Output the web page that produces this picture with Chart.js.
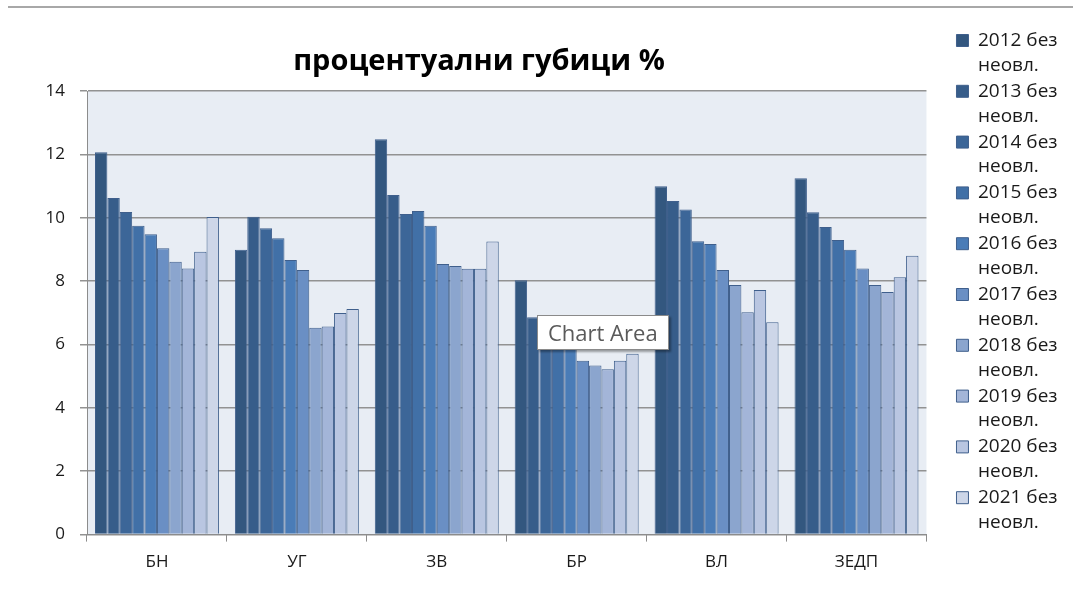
<!DOCTYPE html>
<html>
<head>
<meta charset="utf-8">
<script src="https://cdn.jsdelivr.net/npm/chart.js@4.4.1/dist/chart.umd.min.js"></script>
<style>
  body { margin: 0; background: #fff; }
  #wrap { position: relative; width: 1073px; height: 605px; }
  #topline { position: absolute; left: 8px; right: 0; top: 6px; border-top: 2px solid #a8a8a8; }
  #hint {
    position: absolute; left: 537px; top: 315px; width: 120px; height: 33px;
    background: #fff; border: 1px solid #8a8a8a; box-shadow: 2px 2px 2px rgba(0,0,0,0.35);
    font: 22px "Open Sans", sans-serif; color: #5a5a5a; line-height: 33px; padding-left: 10px;
  }
</style>
</head>
<body>
<div id="wrap">
  <div id="topline"></div>
  <canvas id="chart"></canvas>
  <div id="hint">Chart Area</div>
</div>
<script>
// categories (x axis)
const regions = ['БН', 'УГ', 'ЗВ', 'БР', 'ВЛ', 'ЗЕДП'];
const seriesNames = ['2012 без неовл.', '2013 без неовл.', '2014 без неовл.', '2015 без неовл.', '2016 без неовл.',
  '2017 без неовл.', '2018 без неовл.', '2019 без неовл.', '2020 без неовл.', '2021 без неовл.'];
const yTicks = [0, 2, 4, 6, 8, 10, 12, 14];

// values per year, one per region
const y2012 = [12.07, 8.99, 12.48, 8.03, 10.99, 11.25];
const y2013 = [10.62, 10.03, 10.72, 6.86, 10.53, 10.17];
const y2014 = [10.18, 9.67, 10.12, 6.50, 10.26, 9.71];
const y2015 = [9.75, 9.35, 10.21, 6.25, 9.26, 9.30];
const y2016 = [9.48, 8.67, 9.75, 6.00, 9.17, 8.99];
const y2017 = [9.04, 8.35, 8.54, 5.49, 8.35, 8.40];
const y2018 = [8.61, 6.53, 8.48, 5.34, 7.88, 7.88];
const y2019 = [8.40, 6.57, 8.39, 5.22, 7.02, 7.66];
const y2020 = [8.93, 6.99, 8.39, 5.49, 7.72, 8.12];
const y2021 = [10.02, 7.12, 9.25, 5.71, 6.70, 8.80];
const allYears = [y2012, y2013, y2014, y2015, y2016, y2017, y2018, y2019, y2020, y2021];

const colors = ['#33577f', '#375d8a', '#3c6698', '#4170a7', '#4a7cb7', '#6a8fc4', '#8ba5ce', '#a3b5d8', '#b9c6e1', '#cdd6e8'];
const edge = '#3f5f8c';
const font = '"Open Sans", sans-serif';

// light plot background like excel
const plotBg = {
  id: 'plotBg',
  beforeDraw(chart) {
    const a = chart.chartArea;
    const c = chart.ctx;
    c.save();
    c.fillStyle = '#e8edf4';
    c.fillRect(a.left, a.top, a.right - a.left, a.bottom - a.top);
    c.restore();
  }
};

// title is centred a bit left of the plot in the original
const titleShift = {
  id: 'titleShift',
  afterLayout(chart) {
    const t = chart.titleBlock;
    if (t) { t.left = 0; t.right = 958; }
  }
};

const ctx = document.getElementById('chart').getContext('2d');
new Chart(ctx, {
  type: 'bar',
  data: {
    labels: regions,
    datasets: allYears.map((vals, i) => ({
      label: seriesNames[i],
      data: vals,
      backgroundColor: colors[i],
      borderColor: edge,
      borderWidth: 1,
      categoryPercentage: 0.886,
      barPercentage: 1
    }))
  },
  options: {
    responsive: true,
    maintainAspectRatio: false,
    animation: false,
    events: [],
    layout: { padding: { top: 30, left: 10, right: 5.5, bottom: 23 } },
    scales: {
      x: {
        grid: { drawOnChartArea: false, offset: true, tickLength: 7, color: '#8c8c8c' },
        border: { color: '#8c8c8c' },
        ticks: { font: { family: font, size: 17 }, color: '#1a1a1a', padding: 10 }
      },
      y: {
        min: 0,
        max: 14,
        afterBuildTicks: (s) => { s.ticks = yTicks.map(v => ({ value: v })); },
        afterFit: (s) => { s.width = 77; },
        grid: { color: '#929292', lineWidth: 1.5, tickLength: 7 },
        border: { color: '#8c8c8c' },
        ticks: { font: { family: font, size: 17 }, color: '#1a1a1a', padding: 15 }
      },
      gap: {
        type: 'linear',
        position: 'right',
        display: true,
        grid: { display: false },
        border: { display: false },
        ticks: { display: false },
        afterFit: (s) => { s.width = 29; }
      }
    },
    plugins: {
      title: {
        display: true,
        text: 'процентуални губици %',
        font: { family: font, size: 29, weight: 'bold' },
        color: '#000',
        padding: { top: 14.6, bottom: 11.6 }
      },
      legend: {
        position: 'right',
        align: 'start',
        labels: {
          font: { family: font, size: 19, lineHeight: '24.9px' },
          color: '#1a1a1a',
          boxWidth: 12,
          boxHeight: 12,
          padding: 1,
          generateLabels: (chart) => {
            const items = Chart.defaults.plugins.legend.labels.generateLabels(chart);
            items.forEach(it => {
              const parts = it.text.split(' ');
              it.text = [parts[0] + ' ' + parts[1], parts.slice(2).join(' ')];
            });
            return items;
          }
        }
      },
      tooltip: { enabled: false }
    }
  },
  plugins: [plotBg, titleShift]
});
</script>
</body>
</html>
